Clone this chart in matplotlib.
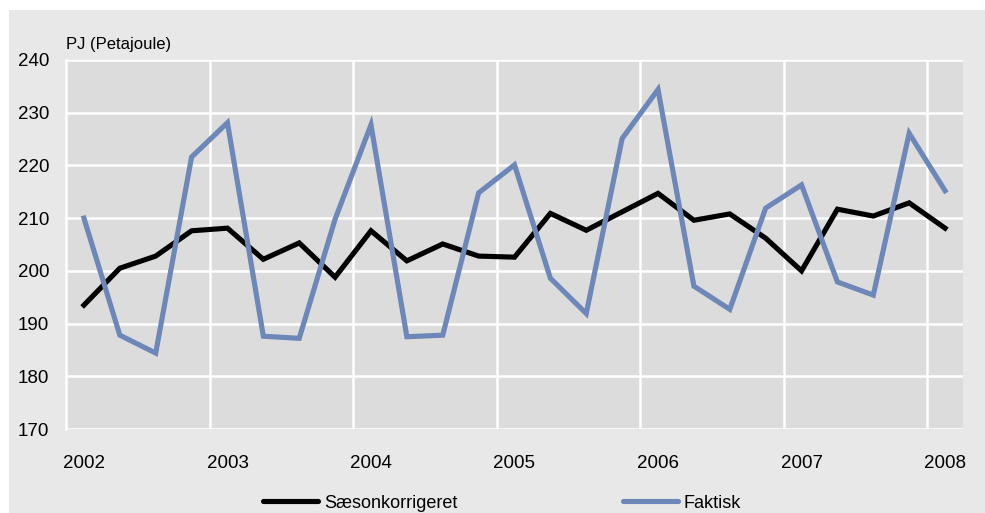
import matplotlib
matplotlib.use("Agg")
import matplotlib.pyplot as plt
from matplotlib.patches import Rectangle
from matplotlib.ticker import FixedLocator

plt.rcParams['font.family'] = ['Liberation Sans', 'DejaVu Sans']

quarters = list(range(25))
year_labels = ['2002', '2003', '2004', '2005', '2006', '2007', '2008']
saeson = [193.5, 200.5, 202.8, 207.6, 208.1, 202.2, 205.3, 198.8,
          207.6, 201.9, 205.1, 202.8, 202.6, 210.9, 207.7, 211.2,
          214.7, 209.6, 210.8, 206.2, 200.0, 211.7, 210.4, 212.9, 208.1]
faktisk = [210.0, 187.8, 184.4, 221.6, 228.1, 187.6, 187.2, 209.8,
           227.7, 187.5, 187.8, 214.8, 220.1, 198.6, 191.9, 225.1,
           234.4, 197.1, 192.7, 211.9, 216.3, 197.9, 195.4, 226.1, 215.2]
yticks = [170, 180, 190, 200, 210, 220, 230, 240]

W, H = 985, 513
fig = plt.figure(figsize=(W / 100, H / 100), dpi=100, facecolor='white')
fig.patches.append(Rectangle((9 / W, 0), (W - 9) / W, (H - 10) / H,
                             transform=fig.transFigure, facecolor='#E8E8E8',
                             edgecolor='none', zorder=-5))

ax = fig.add_axes([66 / W, (H - 429) / H, (963 - 66) / W, (429 - 60) / H])
ax.set_facecolor('#DCDCDC')

ax.plot(quarters, saeson, color='black', lw=3.7, solid_joinstyle='miter',
        label='Sæsonkorrigeret', zorder=3)
ax.plot(quarters, faktisk, color='#6C87B8', lw=3.7, solid_joinstyle='miter',
        label='Faktisk', zorder=3)

ax.set_xlim(-0.5, 24.5)
ax.set_ylim(170, 240)
ax.set_yticks(yticks)
ax.set_xticks(quarters[::4])
ax.set_xticklabels(year_labels)
ax.xaxis.set_minor_locator(FixedLocator([3.5, 7.5, 11.5, 15.5, 19.5, 23.5]))

ax.grid(True, axis='y', which='major', color='white', lw=1.8, zorder=1)
ax.grid(True, axis='x', which='minor', color='white', lw=1.8, zorder=1)
ax.set_axisbelow(True)
for s in ['top', 'right', 'bottom']:
    ax.spines[s].set_visible(False)
ax.spines['left'].set_color('white')
ax.spines['left'].set_linewidth(1.8)

ax.tick_params(axis='both', which='both', length=0, labelsize=13.5, colors='black')
ax.tick_params(axis='y', pad=12)
ax.tick_params(axis='x', pad=19)

fig.text(66 / W, 1 - 45 / H, 'PJ (Petajoule)', fontsize=12, va='center', ha='left')

leg = fig.legend(loc='center', bbox_to_anchor=(0.51, 1 - 503 / H), ncol=2,
                 frameon=False, fontsize=13, handlelength=3.0, handletextpad=0.35,
                 columnspacing=9.2, borderaxespad=0, borderpad=0)
for line in leg.get_lines():
    line.set_solid_capstyle('round')

fig.savefig('out.png', dpi=100, facecolor=fig.get_facecolor())
